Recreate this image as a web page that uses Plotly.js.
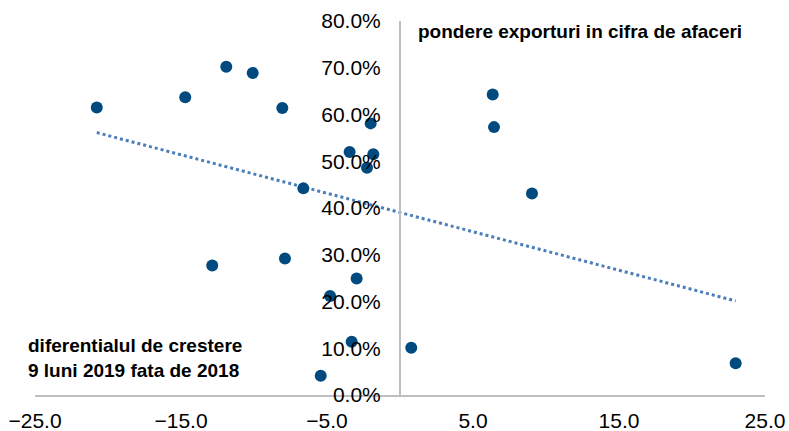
<!DOCTYPE html>
<html>
<head>
<meta charset="utf-8">
<script src="https://cdn.plot.ly/plotly-3.0.1.min.js"></script>
<style>html,body{margin:0;padding:0;background:#fff;}#chart{width:789px;height:431px;}</style>
</head>
<body>
<div id="chart"></div>
<script>
// growth differential (x) and export share of turnover (y)
const growthDiff = [-20.77, -14.71, -11.90, -10.09, -8.06, -2.01, -3.45, -1.83, -2.26, -6.62,
                    -12.86, -7.88, -2.97, -4.79, -3.31, -5.43, 6.35, 6.44, 9.04, 0.77, 22.99];
const exportShare = [0.615, 0.637, 0.702, 0.689, 0.614, 0.581, 0.520, 0.515, 0.486, 0.442,
                     0.277, 0.292, 0.249, 0.212, 0.114, 0.041, 0.643, 0.573, 0.431, 0.101, 0.068];
const xTicks = [-25, -15, -5, 5, 15, 25];
const yTitle = 'pondere exporturi in cifra de afaceri';
const xTitleLines = ['diferentialul de crestere', '9 luni 2019 fata de 2018'];

// linear trendline (least squares) from the data
const n = growthDiff.length;
const mx = growthDiff.reduce((a, b) => a + b, 0) / n;
const my = exportShare.reduce((a, b) => a + b, 0) / n;
let sxy = 0, sxx = 0;
for (let i = 0; i < n; i++) { sxy += (growthDiff[i] - mx) * (exportShare[i] - my); sxx += (growthDiff[i] - mx) ** 2; }
const slope = sxy / sxx, intercept = my - slope * mx;
const xmin = Math.min(...growthDiff), xmax = Math.max(...growthDiff);
const trendX = [xmin, xmax];
const trendY = trendX.map(v => intercept + slope * v);

const font = 'Liberation Sans, Arial, sans-serif';
const data = [
  { x: trendX, y: trendY, mode: 'lines', type: 'scatter',
    line: { color: '#4a7ebb', width: 3, dash: 'dot' }, hoverinfo: 'skip' },
  { x: growthDiff, y: exportShare, mode: 'markers', type: 'scatter',
    marker: { color: '#004a7f', size: 12 } }
];
const layout = {
  width: 789, height: 431,
  margin: { l: 35, r: 24, t: 21, b: 36 },
  showlegend: false,
  paper_bgcolor: '#fff', plot_bgcolor: '#fff',
  font: { family: font, size: 21, color: '#000' },
  xaxis: { range: [-25, 25], tickvals: xTicks, tickformat: '.1f', showgrid: false, zeroline: false,
           showline: true, linecolor: '#bfbfbf', linewidth: 2, ticks: '', ticklabelstandoff: 6 },
  yaxis: { range: [0, 0.8], dtick: 0.1, tickformat: '.1%', showgrid: false, zeroline: false,
           anchor: 'free', position: 0.5, showline: true, linecolor: '#bfbfbf', linewidth: 2,
           ticks: '', ticklabelstandoff: 14 },
  annotations: [
    { text: '<b>' + yTitle + '</b>', xref: 'paper', yref: 'paper', x: 0.522, y: 0.971,
      xanchor: 'left', yanchor: 'middle', showarrow: false, font: { family: font, size: 19 } },
    { text: '<b>' + xTitleLines.join('<br>') + '</b>', xref: 'paper', yref: 'paper', x: -0.012, y: 0.099,
      xanchor: 'left', yanchor: 'middle', align: 'left', showarrow: false, font: { family: font, size: 19 } }
  ]
};
Plotly.newPlot('chart', data, layout, { staticPlot: true });
</script>
</body>
</html>
